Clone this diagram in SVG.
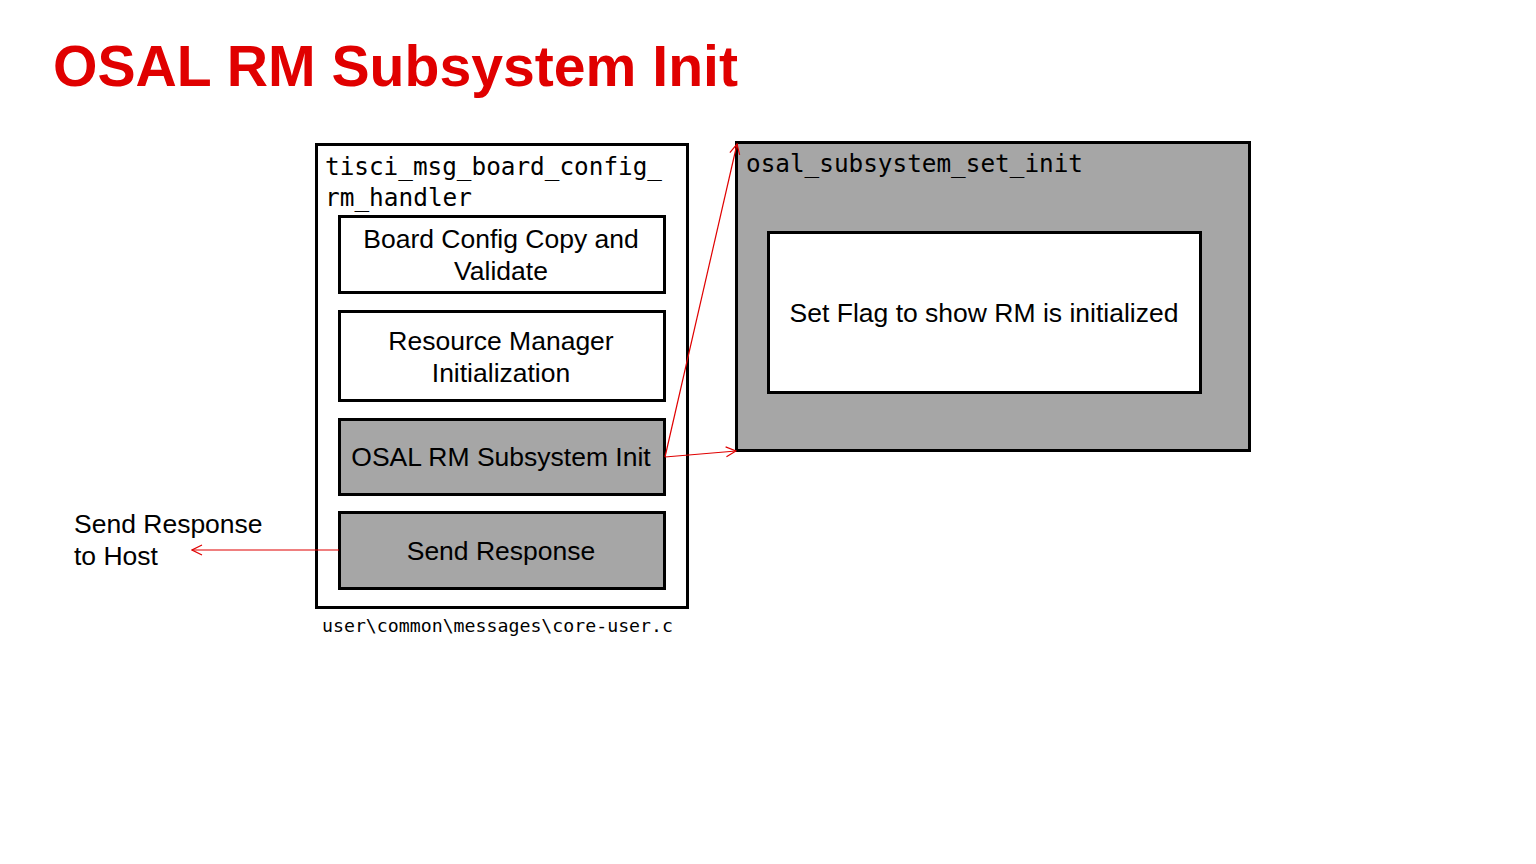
<svg xmlns="http://www.w3.org/2000/svg" width="1536" height="864" viewBox="0 0 1536 864">
<style>
.box{stroke:#000;stroke-width:3}
.w{fill:#fff}
.g{fill:#a6a6a6}
.t{font-family:"Liberation Sans",Arial,sans-serif;font-size:26.5px;fill:#000}
.m{font-family:"DejaVu Sans Mono","Liberation Mono",monospace;font-size:24.3px;fill:#000}
.c{stroke:#e00000;stroke-width:1.2;fill:none}
</style>
<defs>
<marker id="ah" viewBox="0 0 12 12" refX="11" refY="6" markerWidth="12" markerHeight="12" markerUnits="userSpaceOnUse" orient="auto">
<path d="M1,1 L11,6 L1,11" fill="none" stroke="#e00000" stroke-width="1.2"/>
</marker>
</defs>
<rect width="1536" height="864" fill="#fff"/>
<text x="53" y="86" font-family="Liberation Sans,Arial,sans-serif" font-weight="bold" font-size="57.5" fill="#e00000" textLength="685" lengthAdjust="spacingAndGlyphs">OSAL RM Subsystem Init</text>

<g id="handler">
<rect class="box w" x="316.5" y="144.5" width="371" height="463"/>
<text class="m" x="325" y="175" textLength="337" lengthAdjust="spacingAndGlyphs">tisci_msg_board_config_</text>
<text class="m" x="325" y="206" textLength="147" lengthAdjust="spacingAndGlyphs">rm_handler</text>
<text x="322" y="632" font-family="DejaVu Sans Mono,Liberation Mono,monospace" font-size="18.2" fill="#000" textLength="351" lengthAdjust="spacingAndGlyphs">user\common\messages\core-user.c</text>
</g>
<g id="board-config">
<rect class="box w" x="339.5" y="216.5" width="325" height="76"/>
<text class="t" x="501" y="248" text-anchor="middle">Board Config Copy and</text>
<text class="t" x="501" y="280" text-anchor="middle">Validate</text>
</g>
<g id="rm-init">
<rect class="box w" x="339.5" y="311.5" width="325" height="89"/>
<text class="t" x="501" y="350" text-anchor="middle">Resource Manager</text>
<text class="t" x="501" y="382" text-anchor="middle">Initialization</text>
</g>
<g id="osal-init">
<rect class="box g" x="339.5" y="419.5" width="325" height="75"/>
<text class="t" x="501" y="466" text-anchor="middle">OSAL RM Subsystem Init</text>
</g>
<g id="send-response">
<rect class="box g" x="339.5" y="512.5" width="325" height="76"/>
<text class="t" x="501" y="560" text-anchor="middle">Send Response</text>
</g>
<g id="host">
<text class="t" x="74" y="533">Send Response</text>
<text class="t" x="74" y="565">to Host</text>
</g>
<g id="osal-subsystem-set-init">
<rect class="box g" x="736.5" y="142.5" width="513" height="308"/>
<text class="m" x="746" y="172" textLength="337" lengthAdjust="spacingAndGlyphs">osal_subsystem_set_init</text>
<rect class="box w" x="768.5" y="232.5" width="432" height="160"/>
<text class="t" x="984" y="322" text-anchor="middle">Set Flag to show RM is initialized</text>
</g>
<g id="connectors">
<line class="c" x1="665" y1="457" x2="737" y2="144" marker-end="url(#ah)"/>
<line class="c" x1="665" y1="457" x2="736" y2="451" marker-end="url(#ah)"/>
<line class="c" x1="339" y1="550" x2="192" y2="550" marker-end="url(#ah)"/>
</g>
</svg>
